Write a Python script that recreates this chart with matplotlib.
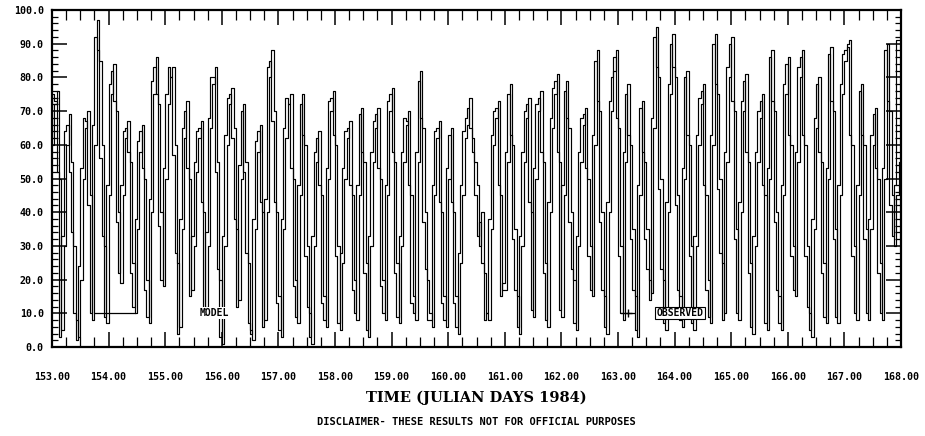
import matplotlib
matplotlib.use("Agg")
import matplotlib.pyplot as plt
from matplotlib.ticker import MultipleLocator, FormatStrFormatter

# hourly values, one row per julian day (153 .. 167)
model_by_day = [
    [60, 72, 76, 50, 5, 30, 60, 69, 55, 30, 8, 3, 20, 50, 65, 70, 45, 8, 60, 97, 85, 60, 30, 7],
    [45, 75, 84, 70, 40, 19, 45, 62, 67, 55, 25, 10, 35, 58, 66, 50, 20, 7, 40, 75, 86, 72, 40, 18],
    [50, 72, 80, 83, 60, 25, 6, 35, 62, 73, 50, 17, 30, 52, 62, 67, 40, 12, 30, 65, 78, 83, 55, 20],
    [1, 30, 60, 72, 77, 65, 35, 14, 50, 72, 55, 25, 5, 2, 35, 58, 66, 40, 8, 40, 80, 88, 70, 40],
    [15, 3, 35, 62, 72, 75, 50, 20, 7, 45, 75, 60, 30, 10, 1, 30, 55, 64, 45, 15, 6, 50, 70, 76],
    [60, 30, 5, 25, 50, 62, 67, 45, 20, 8, 45, 71, 55, 25, 3, 30, 55, 65, 71, 50, 20, 8, 45, 70],
    [77, 55, 25, 7, 30, 55, 66, 70, 45, 15, 8, 55, 82, 65, 40, 20, 10, 6, 45, 62, 67, 40, 15, 6],
    [50, 65, 40, 15, 4, 25, 45, 62, 66, 74, 62, 55, 48, 30, 40, 22, 10, 8, 35, 60, 68, 73, 45, 17],
    [17, 55, 78, 60, 35, 15, 4, 30, 55, 68, 74, 40, 9, 50, 70, 76, 55, 25, 6, 40, 65, 75, 81, 55],
    [9, 45, 79, 65, 40, 20, 5, 30, 55, 66, 71, 50, 30, 15, 60, 88, 70, 40, 15, 4, 40, 70, 82, 88],
    [65, 30, 8, 55, 78, 60, 35, 15, 3, 45, 73, 55, 35, 20, 16, 65, 95, 80, 50, 20, 5, 40, 75, 93],
    [80, 45, 15, 6, 50, 82, 60, 30, 5, 30, 60, 72, 78, 45, 20, 7, 60, 93, 75, 50, 25, 10, 55, 80],
    [92, 70, 35, 8, 40, 70, 81, 55, 25, 4, 30, 55, 68, 75, 45, 5, 50, 88, 70, 40, 15, 5, 45, 75],
    [86, 60, 30, 15, 55, 80, 88, 60, 30, 10, 3, 35, 65, 80, 55, 25, 7, 50, 89, 70, 35, 7, 45, 75],
    [85, 90, 91, 60, 30, 8, 45, 78, 60, 35, 8, 35, 60, 71, 50, 25, 8, 50, 90, 70, 45, 30, 45, 55],
]

observed_by_day = [
    [62, 75, 73, 52, 3, 33, 64, 66, 52, 34, 10, 2, 24, 53, 68, 67, 42, 10, 66, 92, 88, 56, 33, 9],
    [48, 78, 82, 73, 37, 22, 48, 64, 65, 58, 22, 12, 38, 61, 64, 53, 17, 9, 44, 79, 83, 75, 36, 20],
    [53, 75, 83, 80, 57, 28, 4, 38, 65, 70, 53, 15, 33, 55, 64, 65, 43, 10, 34, 68, 80, 80, 52, 23],
    [3, 33, 63, 74, 75, 62, 38, 12, 54, 70, 52, 28, 7, 4, 38, 61, 64, 43, 6, 44, 83, 85, 67, 43],
    [13, 5, 38, 65, 74, 72, 53, 18, 9, 48, 72, 63, 27, 12, 3, 33, 58, 62, 48, 13, 8, 53, 73, 74],
    [63, 27, 7, 28, 53, 64, 65, 48, 17, 10, 48, 69, 58, 22, 5, 33, 58, 67, 69, 53, 18, 10, 48, 73],
    [75, 58, 22, 9, 33, 58, 68, 67, 48, 13, 10, 58, 79, 68, 37, 23, 8, 8, 48, 64, 65, 43, 13, 8],
    [53, 63, 43, 13, 6, 28, 48, 64, 68, 71, 65, 58, 45, 33, 37, 25, 8, 10, 38, 63, 70, 71, 48, 15],
    [19, 58, 75, 63, 32, 17, 6, 33, 58, 70, 72, 43, 11, 53, 72, 74, 58, 22, 8, 43, 68, 77, 79, 58],
    [11, 48, 76, 68, 37, 23, 7, 33, 58, 68, 69, 53, 27, 17, 63, 85, 73, 37, 17, 6, 43, 73, 80, 86],
    [68, 27, 10, 58, 75, 63, 32, 17, 5, 48, 71, 58, 32, 23, 14, 68, 92, 83, 47, 23, 7, 43, 78, 90],
    [83, 42, 17, 8, 53, 80, 63, 27, 7, 33, 63, 74, 76, 48, 17, 9, 63, 90, 78, 47, 28, 8, 58, 83],
    [90, 73, 32, 10, 43, 73, 79, 58, 22, 6, 33, 58, 70, 73, 48, 7, 53, 86, 73, 37, 17, 7, 48, 78],
    [84, 63, 27, 17, 58, 83, 86, 63, 27, 12, 5, 38, 68, 78, 58, 22, 9, 53, 87, 73, 32, 9, 48, 78],
    [87, 88, 89, 63, 27, 10, 48, 76, 63, 32, 10, 38, 63, 69, 53, 22, 10, 53, 88, 73, 42, 33, 48, 91],
]

first_day = 153
last_day = 168

# flatten into hourly series
model = [v for day in model_by_day for v in day]
observed = [v for day in observed_by_day for v in day]
hours = [first_day + h / 24 for h in range(len(model))]

label_font = {"family": "DejaVu Sans Mono", "weight": "bold", "size": 7}

fig = plt.figure(figsize=(9.25, 4.36), dpi=100)
ax = fig.add_axes([52 / 925, 1 - 347 / 436, 849 / 925, 337 / 436])

ax.plot(hours, model, color="black", lw=0.85, drawstyle="steps-post")
ax.plot(hours, observed, color="black", lw=0.85, drawstyle="steps-pre")

ax.set_xlim(first_day, last_day)
ax.set_ylim(0, 100)

ax.xaxis.set_major_locator(MultipleLocator(1))
ax.xaxis.set_minor_locator(MultipleLocator(0.25))
ax.yaxis.set_major_locator(MultipleLocator(10))
ax.yaxis.set_minor_locator(MultipleLocator(2))
ax.xaxis.set_major_formatter(FormatStrFormatter("%.2f"))
ax.yaxis.set_major_formatter(FormatStrFormatter("%.1f"))

ax.tick_params(which="both", direction="in", top=True, right=True, color="black")
ax.tick_params(which="major", length=11, width=1.1, pad=6)
ax.tick_params(which="minor", length=7, width=0.9)
ax.tick_params(axis="y", which="minor", length=4)
ax.tick_params(axis="x", pad=18)

for lab in ax.get_xticklabels() + ax.get_yticklabels():
    lab.set_fontfamily("DejaVu Sans Mono")
    lab.set_fontweight("bold")
    lab.set_fontsize(7.2)

for sp in ax.spines.values():
    sp.set_linewidth(1.6)

# legend drawn inside the plot, as in the original
ax.plot([0.051, 0.098], [0.101, 0.101], color="black", lw=0.9, transform=ax.transAxes, zorder=5)
ax.text(0.174, 0.101, "MODEL", transform=ax.transAxes, va="center", ha="left", fontdict=label_font,
        zorder=6, bbox=dict(facecolor="white", edgecolor="none", pad=0.5))
ax.plot([0.670, 0.686], [0.101, 0.101], color="black", lw=0.9, transform=ax.transAxes, zorder=5)
ax.plot([0.678], [0.101], marker="+", color="black", ms=6, transform=ax.transAxes, zorder=5)
ax.text(0.712, 0.101, "OBSERVED", transform=ax.transAxes, va="center", ha="left", fontdict=label_font,
        zorder=6, bbox=dict(facecolor="white", edgecolor="black", lw=0.8, pad=0.8))

fig.text(0.515, 1 - 398 / 436, "TIME (JULIAN DAYS 1984)", ha="center", va="center",
         family="DejaVu Serif", weight="bold", size=10.5)
fig.text(0.515, 1 - 422 / 436, "DISCLAIMER- THESE RESULTS NOT FOR OFFICIAL PURPOSES", ha="center", va="center",
         family="DejaVu Sans Mono", weight="bold", size=7.5)

fig.savefig("out.png", dpi=100)
